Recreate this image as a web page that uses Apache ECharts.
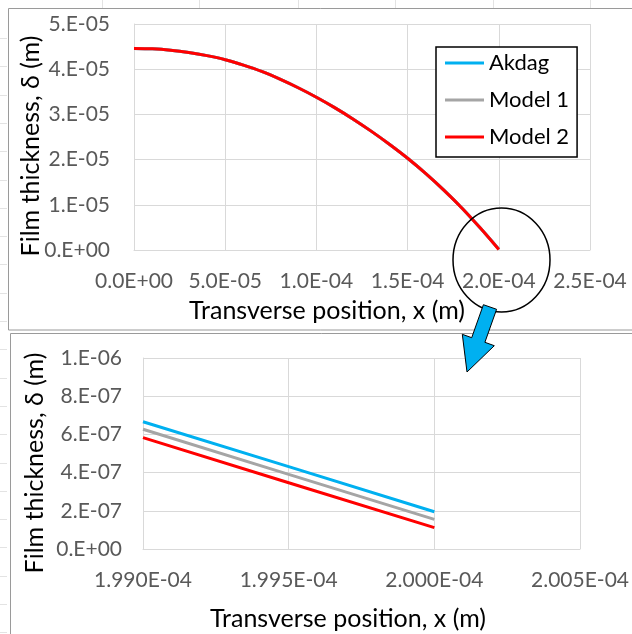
<!DOCTYPE html>
<html>
<head>
<meta charset="utf-8">
<script src="https://cdn.jsdelivr.net/npm/echarts@6/dist/echarts.min.js"></script>
<style>
html,body{margin:0;padding:0;background:#fff;}
#chart{width:632px;height:634px;}
</style>
</head>
<body>
<div id="chart"></div>
<script>
// ---- data ----
const seriesNames = ['Akdag', 'Model 1', 'Model 2'];
const xTop = [0, 1e-5, 2e-5, 3e-5, 4e-5, 5e-5, 6e-5, 7e-5, 8e-5, 9e-5, 1.0e-4, 1.1e-4, 1.2e-4, 1.3e-4, 1.4e-4, 1.5e-4, 1.6e-4, 1.7e-4, 1.8e-4, 1.9e-4, 2.0e-4];
const akdagTop  = [4.46e-5, 4.45e-5, 4.42e-5, 4.37e-5, 4.30e-5, 4.21e-5, 4.09e-5, 3.95e-5, 3.78e-5, 3.59e-5, 3.38e-5, 3.15e-5, 2.90e-5, 2.63e-5, 2.34e-5, 2.03e-5, 1.69e-5, 1.32e-5, 0.92e-5, 0.48e-5, 1.95e-7];
const model1Top = [4.46e-5, 4.45e-5, 4.42e-5, 4.37e-5, 4.30e-5, 4.21e-5, 4.09e-5, 3.95e-5, 3.78e-5, 3.59e-5, 3.38e-5, 3.15e-5, 2.90e-5, 2.63e-5, 2.34e-5, 2.03e-5, 1.69e-5, 1.32e-5, 0.92e-5, 0.48e-5, 1.55e-7];
const model2Top = [4.46e-5, 4.45e-5, 4.42e-5, 4.37e-5, 4.30e-5, 4.21e-5, 4.09e-5, 3.95e-5, 3.78e-5, 3.59e-5, 3.38e-5, 3.15e-5, 2.90e-5, 2.63e-5, 2.34e-5, 2.03e-5, 1.69e-5, 1.32e-5, 0.92e-5, 0.48e-5, 1.12e-7];

const xZoom = [1.990e-4, 1.995e-4, 2.000e-4];
const akdagZoom  = [6.66e-7, 4.31e-7, 1.95e-7];
const model1Zoom = [6.27e-7, 3.91e-7, 1.55e-7];
const model2Zoom = [5.83e-7, 3.47e-7, 1.12e-7];

const topXLabels = ['0.0E+00', '5.0E-05', '1.0E-04', '1.5E-04', '2.0E-04', '2.5E-04'];
const topYLabels = ['0.E+00', '1.E-05', '2.E-05', '3.E-05', '4.E-05', '5.E-05'];
const zoomXLabels = ['1.990E-04', '1.995E-04', '2.000E-04', '2.005E-04'];
const zoomYLabels = ['0.E+00', '2.E-07', '4.E-07', '6.E-07', '8.E-07', '1.E-06'];

const xTitle = 'Transverse position, x (m)';
const yTitle = 'Film thickness, δ (m)';

// ---- styling ----
const FONT = 'Lato, "Open Sans", sans-serif';
const colors = ['#00B0F0', '#A5A5A5', '#FF0000'];
const gridColor = '#D9D9D9';

function pair(xs, ys) { return xs.map((x, i) => [x, ys[i]]); }
function labelFmt(labels, min, step) {
  return v => { const i = Math.round((v - min) / step); return labels[i] !== undefined ? labels[i] : ''; };
}
function axisCommon(labels, min, max, step, margin) {
  return {
    type: 'value', min: min, max: max, interval: step,
    axisLine: { show: true, onZero: false, lineStyle: { color: gridColor, width: 1 } },
    axisTick: { show: false },
    splitLine: { show: true, lineStyle: { color: gridColor, width: 1 } },
    axisLabel: { margin: margin, color: '#595959', fontSize: 21, fontFamily: FONT, formatter: labelFmt(labels, min, step), showMinLabel: true, showMaxLabel: true, hideOverlap: false }
  };
}

const topSeriesData = [akdagTop, model1Top, model2Top];
const zoomSeriesData = [akdagZoom, model1Zoom, model2Zoom];

const series = [];
seriesNames.forEach((n, i) => {
  series.push({ name: n, type: 'line', xAxisIndex: 0, yAxisIndex: 0, data: pair(xTop, topSeriesData[i]), showSymbol: false, symbol: 'none', smooth: 0.3, lineStyle: { color: colors[i], width: 3 }, itemStyle: { color: colors[i] }, z: 3 + i });
  series.push({ name: n, type: 'line', xAxisIndex: 1, yAxisIndex: 1, data: pair(xZoom, zoomSeriesData[i]), showSymbol: false, symbol: 'none', lineStyle: { color: colors[i], width: 3 }, itemStyle: { color: colors[i] }, z: 3 + i });
});

// decorative spreadsheet cell lines outside the chart panels
const cellLines = [];
[102, 199, 298, 395, 493, 590].forEach(x => cellLines.push({ type: 'line', shape: { x1: x + 0.5, y1: 0, x2: x + 0.5, y2: 8 }, style: { stroke: '#E3E3E3', lineWidth: 1 }, silent: true }));
for (let y = 38; y < 634; y += 28.3) cellLines.push({ type: 'line', shape: { x1: 0, y1: Math.round(y) + 0.5, x2: 7, y2: Math.round(y) + 0.5 }, style: { stroke: '#E3E3E3', lineWidth: 1 }, silent: true });

const chart = echarts.init(document.getElementById('chart'), null, { renderer: 'canvas' });
chart.setOption({
  animation: false,
  backgroundColor: '#fff',
  grid: [
    { left: 134, top: 24, width: 456, height: 226 },
    { left: 143, top: 358, width: 439, height: 191 }
  ],
  xAxis: [
    Object.assign(axisCommon(topXLabels, 0, 2.5e-4, 5e-5, 21), { gridIndex: 0 }),
    Object.assign(axisCommon(zoomXLabels, 1.990e-4, 2.005e-4, 5e-7, 21), { gridIndex: 1 })
  ],
  yAxis: [
    Object.assign(axisCommon(topYLabels, 0, 5e-5, 1e-5, 24), { gridIndex: 0 }),
    Object.assign(axisCommon(zoomYLabels, 0, 1e-6, 2e-7, 21), { gridIndex: 1 })
  ],
  legend: {
    data: seriesNames,
    orient: 'vertical',
    left: 436, top: 47,
    icon: 'rect',
    itemWidth: 39, itemHeight: 3,
    itemGap: 15,
    padding: [5, 8, 9, 9],
    borderColor: '#000', borderWidth: 1.5,
    backgroundColor: '#fff',
    textStyle: { fontSize: 22, color: '#000', fontFamily: FONT, padding: [0, 0, 0, 0] },
    selectedMode: false,
    z: 10
  },
  graphic: cellLines.concat([
    { type: 'rect', shape: { x: 8.5, y: 8.5, width: 700, height: 321.5 }, style: { fill: 'none', stroke: '#9A9A9A', lineWidth: 1 }, silent: true, z: 0 },
    { type: 'rect', shape: { x: 10.5, y: 333.5, width: 700, height: 400 }, style: { fill: 'none', stroke: '#9A9A9A', lineWidth: 1 }, silent: true, z: 0 },
    { type: 'text', x: 327, y: 311, style: { text: xTitle, font: '25px ' + FONT, fill: '#000', textAlign: 'center', textVerticalAlign: 'middle' }, z: 10 },
    { type: 'text', x: 31, y: 146, rotation: Math.PI / 2, style: { text: yTitle, font: '25px ' + FONT, fill: '#000', textAlign: 'center', textVerticalAlign: 'middle' }, z: 10 },
    { type: 'text', x: 348, y: 619, style: { text: xTitle, font: '25px ' + FONT, fill: '#000', textAlign: 'center', textVerticalAlign: 'middle' }, z: 10 },
    { type: 'text', x: 35, y: 463, rotation: Math.PI / 2, style: { text: yTitle, font: '25px ' + FONT, fill: '#000', textAlign: 'center', textVerticalAlign: 'middle' }, z: 10 },
    { type: 'ellipse', shape: { cx: 501.5, cy: 260, rx: 48.5, ry: 52 }, style: { fill: 'none', stroke: '#000', lineWidth: 1.5 }, silent: true, z: 20 },
    { type: 'polygon', shape: { points: [[483.4, 304.7], [496.6, 309.3], [484.9, 342.3], [494.3, 345.7], [467, 372], [462.3, 334.3], [471.7, 337.7]] }, style: { fill: '#00B0F0', stroke: '#000', lineWidth: 1 }, silent: true, z: 20 }
  ]),
  series: series
});
</script>
</body>
</html>
